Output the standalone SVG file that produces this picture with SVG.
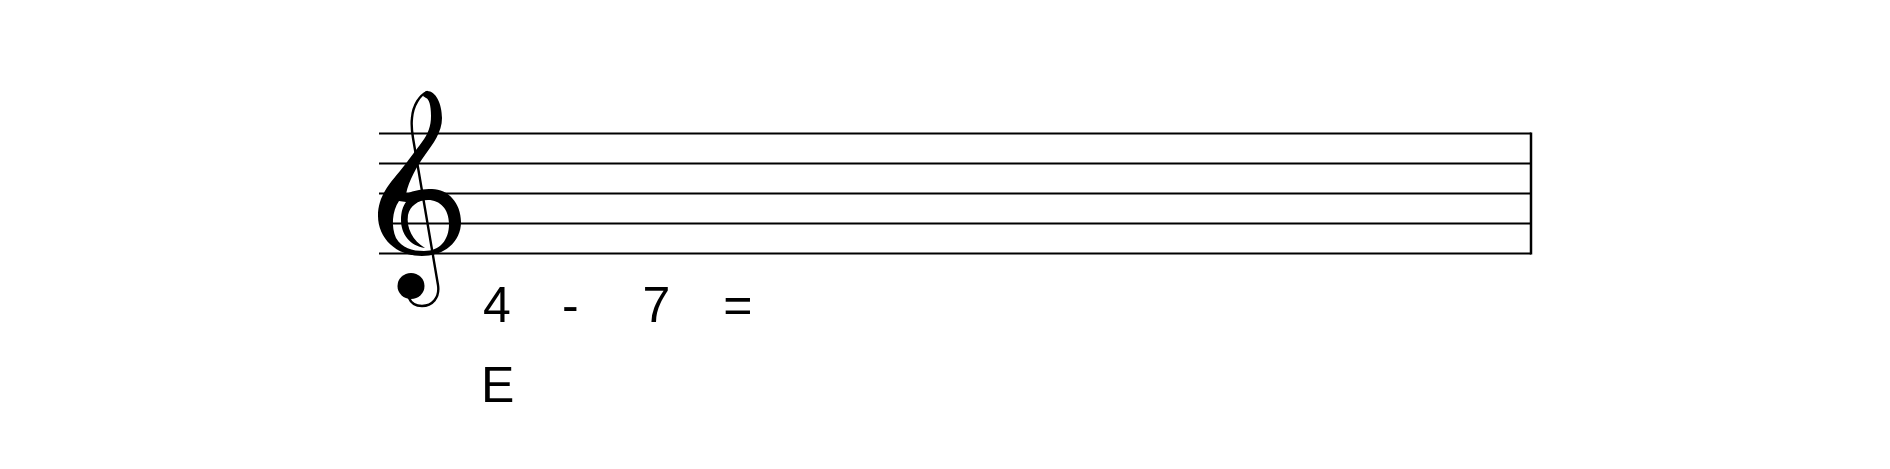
<svg xmlns="http://www.w3.org/2000/svg" width="1890" height="469" viewBox="0 0 1890 469">
<style>
.staff{stroke:#000;stroke-width:2;fill:none}
.bar{stroke:#000;stroke-width:2.5;fill:none}
.t{font-family:"Liberation Sans",Arial,sans-serif;font-size:50px;fill:#000}
</style>
<rect width="1890" height="469" fill="#fff"/>
<g id="staff">
<line class="staff" x1="379" y1="133.5" x2="1531" y2="133.5"/>
<line class="staff" x1="379" y1="163.5" x2="1531" y2="163.5"/>
<line class="staff" x1="379" y1="193.5" x2="1531" y2="193.5"/>
<line class="staff" x1="379" y1="223.5" x2="1531" y2="223.5"/>
<line class="staff" x1="379" y1="253.5" x2="1531" y2="253.5"/>
<line class="bar" x1="1531" y1="132.5" x2="1531" y2="254.5"/>
</g>
<g id="clef">
<path fill="#000" fill-rule="evenodd" d="M427 91 C436 91 442 104 442 118 C442 132 433 144 425 155 C417 166 409 180 406 194 C414 190 424 189 432 189 C448 189 461 203 461 222 C461 242 444 256 422 256 C396 256 378 238 378 216 C378 196 390 183 400 171 C408 161 416 150 422 142 C428 134 431 126 431 116 C431 105 429 99 426 98 L423 96 C424 93 425 91 427 91 Z M399 201 C392 211 391 227 396 238 C402 248 412 251 424 251 C440 251 449 240 449 224 C449 209 440 200 428 200 C418 200 410 206 408 215 C406 228 413 241 425 248 C410 246 401 234 401 220 C401 212 403 206 406 202 Z"/>
<path fill="none" stroke="#000" stroke-width="2.4" stroke-linecap="round" d="M427 92 C420 95 413 105 412 118 C411 126 412 132 413 138 L438 285 C440 298 432 306 422 306 C416 306 411 303 409 298"/>
<ellipse cx="411" cy="286" rx="13.5" ry="13"/>
</g>
<g id="labels">
<text class="t" x="483" y="321.5">4</text>
<text class="t" x="562" y="321.5">-</text>
<text class="t" x="642.5" y="321.5">7</text>
<text class="t" x="723.3" y="321.5">=</text>
<text class="t" x="481" y="401.7">E</text>
</g>
</svg>
